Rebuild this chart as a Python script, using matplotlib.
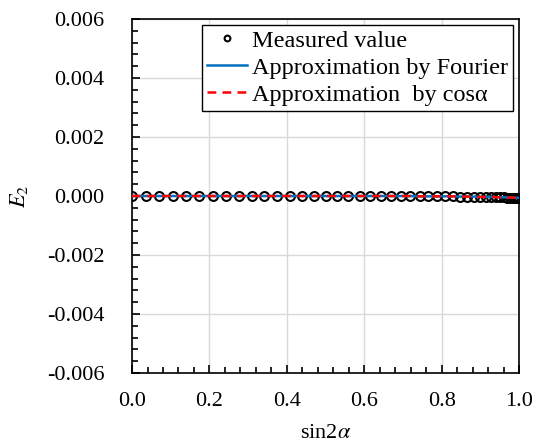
import matplotlib.pyplot as plt
from matplotlib.ticker import MultipleLocator, FormatStrFormatter

plt.rcParams['font.family'] = ['Liberation Serif', 'DejaVu Serif']
plt.rcParams['mathtext.fontset'] = 'stix'

# ------------ donnees ------------
sin2a = [0.0, 0.035, 0.070, 0.105, 0.139, 0.174, 0.208, 0.242, 0.276, 0.309,
         0.342, 0.375, 0.407, 0.438, 0.470, 0.500, 0.530, 0.559, 0.588, 0.616,
         0.643, 0.669, 0.695, 0.719, 0.743, 0.766, 0.788, 0.809, 0.829, 0.848,
         0.866, 0.883, 0.899, 0.914, 0.927, 0.940, 0.951, 0.961, 0.970, 0.978,
         0.985, 0.990, 0.995, 0.998, 0.999, 1.0]
E2_measured = [0.0, 0.0, 0.0, 0.0, 0.0, 0.0, 0.0, 0.0, 0.0, 0.0,
               0.0, 0.0, 0.0, 0.0, 0.0, 0.0, 0.0, 0.0, 0.0, 0.0,
               0.0, 0.0, 0.0, 0.0, -0.00001, -0.00001, -0.00001, -0.00001, -0.00001, -0.00002,
               -0.00002, -0.00002, -0.00003, -0.00003, -0.00003, -0.00004, -0.00004, -0.00004, -0.00005, -0.00005,
               -0.00005, -0.00006, -0.00006, -0.00006, -0.00006, -0.00006]
E2_fourier = E2_measured
E2_cos = E2_measured

# ------------ trace ------------
fig = plt.figure(figsize=(5.38, 4.43), dpi=100)
ax = fig.add_axes([0.2454, 0.158, 0.7193, 0.799])

ax.plot(sin2a, E2_measured, 'o', ms=6.4, mfc='none', mec='black', mew=1.5,
        label='Measured value', zorder=3)
ax.plot(sin2a, E2_fourier, '-', color='#0070C0', lw=1.8,
        label='Approximation by Fourier', zorder=4)
ax.plot(sin2a, E2_cos, '--', color='#FF0000', lw=1.8, dashes=(3.5, 2.5),
        label='Approximation  by cos\u03b1', zorder=5)

ax.set_xlim(0, 1)
ax.set_ylim(-0.006, 0.006)
ax.xaxis.set_major_locator(MultipleLocator(0.2))
ax.xaxis.set_minor_locator(MultipleLocator(0.04))
ax.yaxis.set_major_locator(MultipleLocator(0.002))
ax.yaxis.set_minor_locator(MultipleLocator(0.0004))
ax.xaxis.set_major_formatter(FormatStrFormatter('%.1f'))
ax.yaxis.set_major_formatter(FormatStrFormatter('%.3f'))
ax.tick_params(which='both', direction='in', labelsize=16, width=1.2)
ax.tick_params(which='major', length=6)
ax.tick_params(which='minor', length=4)
ax.tick_params(axis='x', pad=14)
ax.tick_params(axis='y', pad=20)
ax.grid(True, which='major', color='#d9d9d9', lw=1)
ax.set_axisbelow(True)
for s in ax.spines.values():
    s.set_linewidth(1.2)

ax.set_xlabel(r'sin2$\alpha$', fontsize=16, labelpad=9)
ax.set_ylabel(r'$E_2$', fontsize=16, labelpad=12)

leg = ax.legend(loc='upper right', fontsize=17.5, frameon=True, fancybox=False,
                edgecolor='black', framealpha=1, borderpad=0.2,
                labelspacing=0.2, handlelength=1.65, handletextpad=0.2,
                borderaxespad=0.25, markerscale=0.65)
leg.get_frame().set_linewidth(1.0)

fig.savefig('out.png', dpi=100)
